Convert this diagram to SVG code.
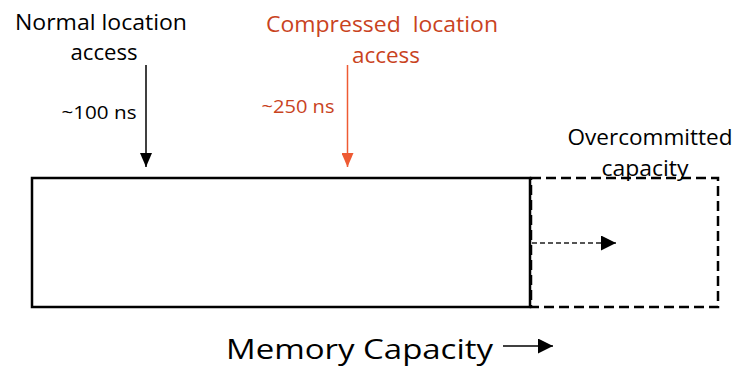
<svg xmlns="http://www.w3.org/2000/svg" width="741" height="366" viewBox="0 0 741 366">
  <style>
    text { font-family: "Open Sans", "Noto Sans", "Liberation Sans", sans-serif; }
    .blk { fill: #000000; }
    .org { fill: #C9431E; }
    .box { fill: none; stroke: #000000; stroke-width: 2.5; }
    .dash { fill: none; stroke: #000000; stroke-width: 2.5; stroke-dasharray: 10 5; }
  </style>
  <defs>
    <!-- downward heads are drawn pointing down, so no orientation is applied -->
    <marker id="headBlack" markerWidth="12" markerHeight="14" refX="6" refY="14" markerUnits="userSpaceOnUse" viewBox="0 0 12 14">
      <path d="M0,0 L12,0 L6,14 Z" fill="#000000"/>
    </marker>
    <marker id="headOrange" markerWidth="12" markerHeight="14" refX="6" refY="14" markerUnits="userSpaceOnUse" viewBox="0 0 12 14">
      <path d="M0,0 L12,0 L6,14 Z" fill="#EE5A33"/>
    </marker>
    <marker id="headRight" markerWidth="15" markerHeight="15" refX="15" refY="7.5" markerUnits="userSpaceOnUse" viewBox="0 0 15 15">
      <path d="M0,0 L15,7.5 L0,15 Z" fill="#000000"/>
    </marker>
    <marker id="headSmall" markerWidth="15" markerHeight="15" refX="15" refY="7.5" markerUnits="userSpaceOnUse" viewBox="0 0 15 15">
      <path d="M0,0 L15,7.5 L0,15 Z" fill="#000000"/>
    </marker>
  </defs>

  <!-- memory region: physical capacity -->
  <g id="memory">
    <rect class="box" x="32" y="178" width="498" height="129"/>
  </g>

  <!-- memory region: overcommitted extension -->
  <g id="overcommit">
    <rect class="dash" x="531" y="178" width="187" height="129"/>
    <text class="blk" x="650" y="145" font-size="21" text-anchor="middle" textLength="165" lengthAdjust="spacingAndGlyphs">Overcommitted</text>
    <text class="blk" x="645" y="176" font-size="21" text-anchor="middle" textLength="87" lengthAdjust="spacingAndGlyphs">capacity</text>
  </g>

  <!-- access labels -->
  <g id="normal-access">
    <text class="blk" x="101" y="30" font-size="21" text-anchor="middle" textLength="172" lengthAdjust="spacingAndGlyphs">Normal location</text>
    <text class="blk" x="104" y="60" font-size="22" text-anchor="middle" textLength="67" lengthAdjust="spacingAndGlyphs">access</text>
    <text class="blk" x="99" y="119" font-size="19" text-anchor="middle" textLength="75" lengthAdjust="spacingAndGlyphs">~100 ns</text>
  </g>

  <g id="compressed-access">
    <text class="org" x="382" y="32" font-size="22" text-anchor="middle" textLength="232" lengthAdjust="spacingAndGlyphs" xml:space="preserve">Compressed  location</text>
    <text class="org" x="386" y="63" font-size="22" text-anchor="middle" textLength="68" lengthAdjust="spacingAndGlyphs">access</text>
    <text class="org" x="298" y="113" font-size="19" text-anchor="middle" textLength="73" lengthAdjust="spacingAndGlyphs">~250 ns</text>
  </g>

  <!-- axis label -->
  <g id="axis">
    <text class="blk" x="226" y="359" font-size="28" textLength="267" lengthAdjust="spacingAndGlyphs">Memory Capacity</text>
  </g>

  <!-- connectors -->
  <g id="connectors">
    <line x1="146" y1="65" x2="146" y2="167" stroke="#000000" stroke-width="1.5" marker-end="url(#headBlack)"/>
    <line x1="347.5" y1="65" x2="347.5" y2="167" stroke="#EE5A33" stroke-width="1.5" marker-end="url(#headOrange)"/>
    <line x1="532" y1="243" x2="616" y2="243" stroke="#555555" stroke-width="2.2" stroke-dasharray="5 3" marker-end="url(#headSmall)"/>
    <line x1="503" y1="346" x2="553" y2="346" stroke="#000000" stroke-width="1.5" marker-end="url(#headRight)"/>
  </g>
</svg>
